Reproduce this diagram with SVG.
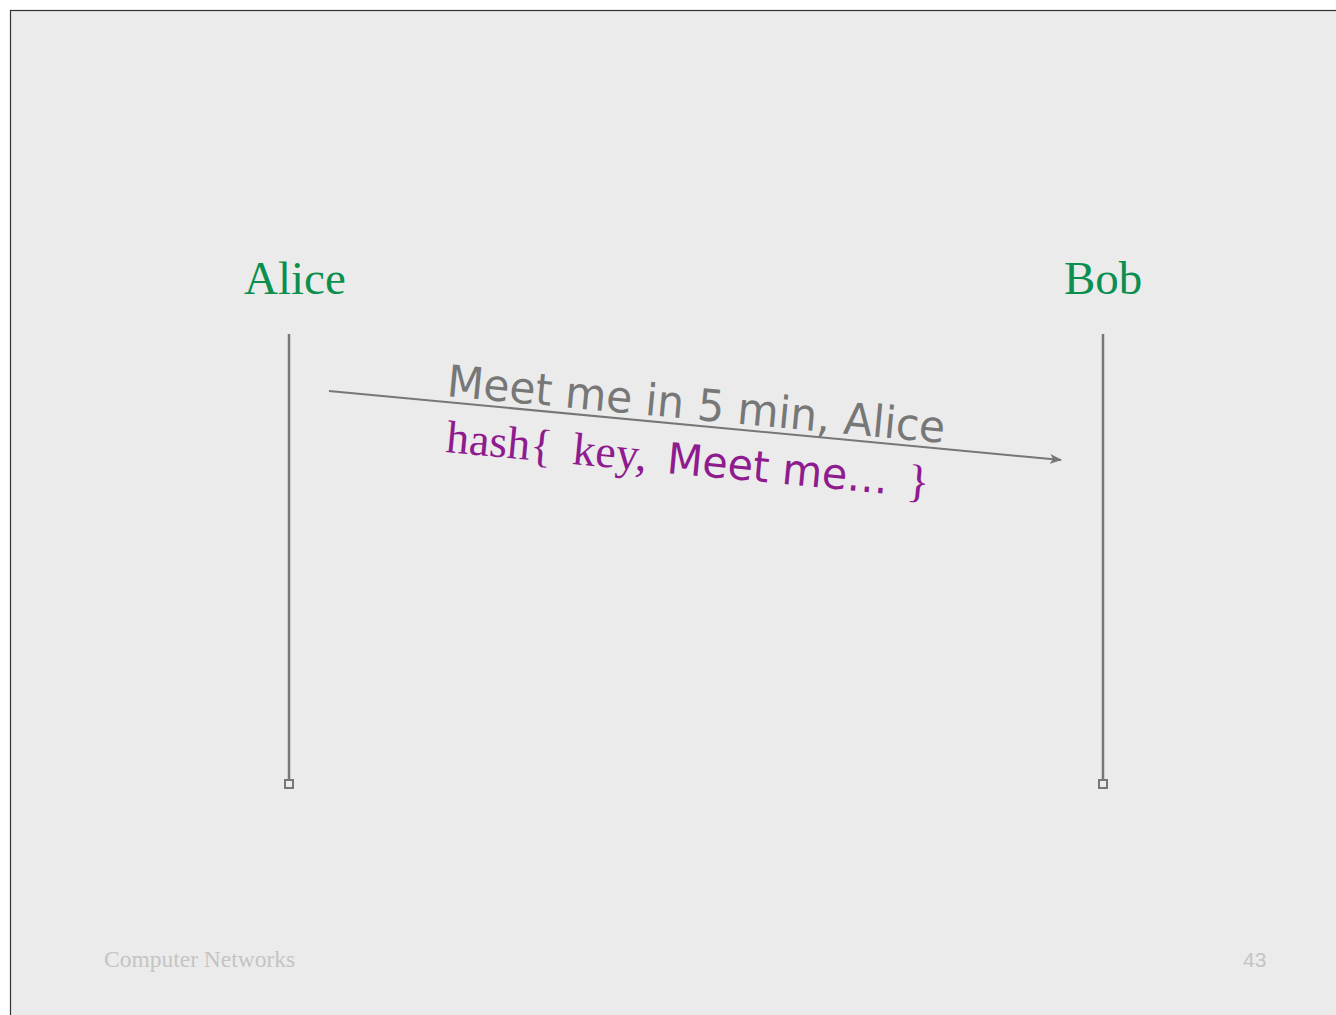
<svg xmlns="http://www.w3.org/2000/svg" width="1336" height="1015" viewBox="0 0 1336 1015">
  <defs>
    <marker id="arrow" markerWidth="12" markerHeight="10" refX="11" refY="5" orient="auto" markerUnits="userSpaceOnUse">
      <path d="M0,0 L12,5 L0,10 L3,5 Z" fill="#777"/>
    </marker>
  </defs>
  <style>
    .actor { font-family: "Liberation Serif", "Times New Roman", serif; font-size: 47px; fill: #0a8f4f; }
    .lifeline { stroke: #777; stroke-width: 2.5; fill: none; }
    .endbox { fill: none; stroke: #777; stroke-width: 2; }
    .msg { font-family: "DejaVu Sans", "Noto Sans", sans-serif; fill: #777; }
    .purple { fill: #8f1c8f; }
    .serif { font-family: "Liberation Serif", "Times New Roman", serif; }
    .comic { font-family: "DejaVu Sans", "Noto Sans", sans-serif; }
    .footer { fill: #c4c4c4; }
  </style>
  <rect x="0" y="0" width="1336" height="1015" fill="#ffffff"/>
  <rect x="10.5" y="10.5" width="1340" height="1020" fill="#ebebeb" stroke="#333" stroke-width="1.2"/>

  <g id="alice">
    <text class="actor" x="244" y="294">Alice</text>
    <line class="lifeline" x1="289" y1="334" x2="289" y2="780"/>
    <rect class="endbox" x="285" y="780" width="8" height="8"/>
  </g>
  <g id="bob">
    <text class="actor" x="1064" y="294">Bob</text>
    <line class="lifeline" x1="1103" y1="334" x2="1103" y2="780"/>
    <rect class="endbox" x="1099" y="780" width="8" height="8"/>
  </g>

  <g id="connectors">
    <line x1="329" y1="391" x2="1061" y2="460" stroke="#777" stroke-width="2" marker-end="url(#arrow)"/>
  </g>

  <g id="labels">
    <text class="msg" font-size="44" transform="translate(446,396) rotate(5.4)" textLength="500" lengthAdjust="spacingAndGlyphs">Meet me in 5 min, Alice</text>
    <g transform="translate(445,452) rotate(5.4)">
      <text class="purple serif" font-size="46" x="0" y="0">hash{</text>
      <text class="purple serif" font-size="46" x="127" y="0">key,</text>
      <text class="purple comic" font-size="43" x="222" y="0" textLength="222" lengthAdjust="spacingAndGlyphs">Meet me…</text>
      <text class="purple serif" font-size="46" x="463" y="0">}</text>
    </g>
  </g>

  <g id="footer">
    <text class="footer serif" font-size="23.5" x="104" y="967">Computer Networks</text>
    <text class="footer" font-family="Liberation Sans, Arial, sans-serif" font-size="21" x="1243" y="967">43</text>
  </g>
</svg>
